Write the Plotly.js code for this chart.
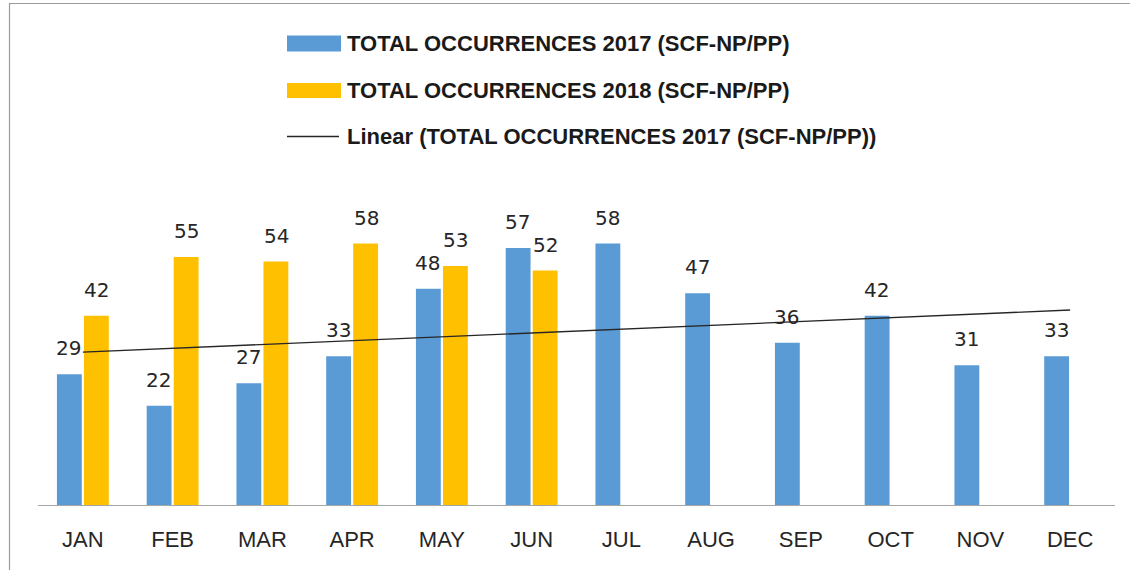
<!DOCTYPE html>
<html>
<head>
<meta charset="utf-8">
<script src="https://cdn.plot.ly/plotly-3.0.1.min.js"></script>
<style>
  html, body { margin: 0; padding: 0; background: #fff; }
  #chart { width: 1130px; height: 570px; }
</style>
</head>
<body>
<div id="chart"></div>
<script>
const months = ['JAN','FEB','MAR','APR','MAY','JUN','JUL','AUG','SEP','OCT','NOV','DEC'];
const values2017 = [29, 22, 27, 33, 48, 57, 58, 47, 36, 42, 31, 33];
const values2018 = [42, 55, 54, 58, 53, 52, null, null, null, null, null, null];
const seriesNames = [
  'TOTAL OCCURRENCES 2017 (SCF-NP/PP)',
  'TOTAL OCCURRENCES 2018 (SCF-NP/PP)',
  'Linear (TOTAL OCCURRENCES 2017 (SCF-NP/PP))'
];
const colors = ['#5B9BD5', '#FFC000', '#262626'];

// Linear least-squares trend of the 2017 series (as the spreadsheet trendline)
const n = values2017.length;
const xs = values2017.map((_, i) => i + 1);
const mx = xs.reduce((a, b) => a + b, 0) / n;
const my = values2017.reduce((a, b) => a + b, 0) / n;
let sxy = 0, sxx = 0;
for (let i = 0; i < n; i++) { sxy += (xs[i] - mx) * (values2017[i] - my); sxx += (xs[i] - mx) ** 2; }
const slope = sxy / sxx, intercept = my - slope * mx;
const trend = xs.map(x => intercept + slope * x);

// layout geometry
const W = 1130, H = 570;
const M = { l: 38, r: 15, t: 212, b: 65 };
const px = x => (x - M.l) / (W - M.l - M.r);
const py = y => (H - M.b - y) / (H - M.t - M.b);

const traces = [
  { type: 'bar', x: months, y: values2017, name: seriesNames[0],
    marker: { color: colors[0] }, showlegend: false, hoverinfo: 'x+y' },
  { type: 'bar', x: months, y: values2018, name: seriesNames[1],
    marker: { color: colors[1] }, showlegend: false, hoverinfo: 'x+y' },
  { type: 'scatter', mode: 'lines', x: months, y: trend, name: seriesNames[2],
    line: { color: colors[2], width: 1.3 }, showlegend: false, hoverinfo: 'skip' }
];

const labelFont = { family: 'DejaVu Sans', size: 20, color: '#262626' };
const annotations = [];
months.forEach((m, i) => {
  if (values2017[i] != null) annotations.push({ x: m, y: values2017[i], xref: 'x', yref: 'y',
    text: String(values2017[i]), showarrow: false, xshift: -14, yshift: 26, yanchor: 'middle', font: labelFont });
  if (values2018[i] != null) annotations.push({ x: m, y: values2018[i], xref: 'x', yref: 'y',
    text: String(values2018[i]), showarrow: false, xshift: 14, yshift: 26, yanchor: 'middle', font: labelFont });
});

// custom legend
const legFont = { family: 'Liberation Sans', size: 22, color: '#1a1a1a' };
const legRows = [43.5, 90, 136.5];
const shapes = [
  { type: 'rect', xref: 'paper', yref: 'paper', x0: px(287), x1: px(341), y0: py(35.5), y1: py(51.5),
    fillcolor: colors[0], line: { width: 0 } },
  { type: 'rect', xref: 'paper', yref: 'paper', x0: px(287), x1: px(341), y0: py(83), y1: py(98),
    fillcolor: colors[1], line: { width: 0 } },
  { type: 'line', xref: 'paper', yref: 'paper', x0: px(287), x1: px(339), y0: py(136.5), y1: py(136.5),
    line: { color: colors[2], width: 1.3 } },
  // outer frame
  { type: 'rect', xref: 'paper', yref: 'paper', x0: px(9.5), x1: px(1140), y0: py(3.5), y1: py(580),
    line: { color: '#9a9a9a', width: 1.2 }, fillcolor: 'rgba(0,0,0,0)', layer: 'below' }
];
seriesNames.forEach((s, i) => {
  annotations.push({ xref: 'paper', yref: 'paper', x: px(345), y: py(legRows[i]), text: '<b>' + s + '</b>',
    showarrow: false, xanchor: 'left', yanchor: 'middle', font: legFont });
});

const layout = {
  width: W, height: H,
  margin: M,
  paper_bgcolor: '#ffffff', plot_bgcolor: '#ffffff',
  barmode: 'group', bargap: 0.398, bargroupgap: 0.08,
  showlegend: false,
  xaxis: {
    type: 'category', showgrid: false, zeroline: false,
    showline: true, linecolor: '#a6a6a6', linewidth: 1.3,
    ticks: '', ticklabelstandoff: 14,
    tickfont: { family: 'Liberation Sans', size: 22, color: '#262626' }
  },
  yaxis: { range: [0, 65], showgrid: false, zeroline: false, showline: false,
    showticklabels: false, ticks: '', fixedrange: true },
  annotations: annotations,
  shapes: shapes
};

Plotly.newPlot('chart', traces, layout, { displayModeBar: false, staticPlot: true });
</script>
</body>
</html>
